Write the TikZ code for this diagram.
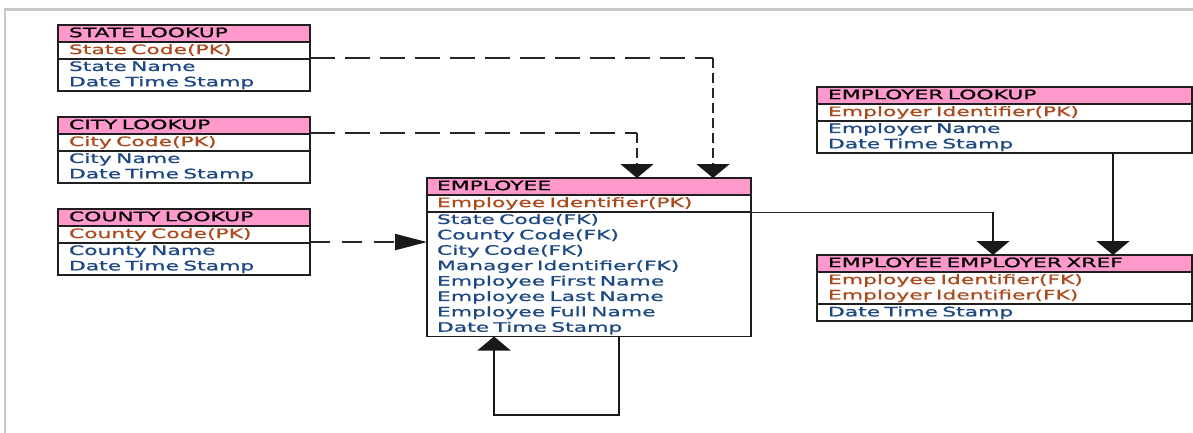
\documentclass[tikz,border=0pt]{standalone}
\usepackage{fontspec}
\setmainfont{DejaVu Sans}[FakeStretch=1.68, FakeBold=0.9]
\usepackage{tikz}
\usetikzlibrary{positioning,arrows.meta,shapes.multipart,calc}
\definecolor{hdrpink}{RGB}{255,153,204}
\definecolor{pkbrown}{RGB}{172,74,30}
\definecolor{attblue}{RGB}{28,72,132}
\definecolor{framegray}{RGB}{200,200,200}
\newcommand{\rs}{\rule[-4pt]{0pt}{15.4pt}}
\tikzset{
  entity/.style = {rectangle split, rectangle split parts=3, draw=black!88, line width=1.5pt,
                   rectangle split part fill={hdrpink,white}, anchor=north west, align=left,
                   inner xsep=11pt, inner ysep=0pt, outer sep=0pt, font=\fontsize{13}{15.4}\selectfont},
  dashh/.style  = {line width=2pt, draw=black!85, dash pattern=on 25pt off 10pt},
  dashv/.style  = {line width=2pt, draw=black!85, dash pattern=on 10pt off 5pt},
  relv/.style   = {-{Triangle[length=14pt,width=33pt]}, line width=2pt, draw=black!90},
  relh/.style   = {-{Triangle[length=32pt,width=16pt]}, line width=2pt, draw=black!90},
}

\begin{document}
\begin{tikzpicture}[x=1pt, y=-1pt]
  \useasboundingbox (0,0) rectangle (1193,433);
  \draw[framegray, line width=2.5pt] (5,433) -- (5,9.5) -- (1193,9.5);

  % lookup tables
  \node[entity, text width=230pt] (state) at (58,25)
    {\rs STATE LOOKUP
     \nodepart{two}\color{pkbrown}\rs State Code(PK)
     \nodepart{three}\color{attblue}\rs State Name\\\rs Date Time Stamp};
  \node[entity, text width=230pt] (city) at (58,117)
    {\rs CITY LOOKUP
     \nodepart{two}\color{pkbrown}\rs City Code(PK)
     \nodepart{three}\color{attblue}\rs City Name\\\rs Date Time Stamp};
  \node[entity, text width=230pt] (county) at (58,209)
    {\rs COUNTY LOOKUP
     \nodepart{two}\color{pkbrown}\rs County Code(PK)
     \nodepart{three}\color{attblue}\rs County Name\\\rs Date Time Stamp};

  % main table
  \node[entity, text width=304pt, inner xsep=10pt] (emp) at (427,178)
    {\rs EMPLOYEE
     \nodepart{two}\color{pkbrown}\rs Employee Identifier(PK)
     \nodepart{three}\color{attblue}\rs State Code(FK)\\\rs County Code(FK)\\\rs City Code(FK)\\
       \rs Manager Identifier(FK)\\\rs Employee First Name\\\rs Employee Last Name\\
       \rs Employee Full Name\\\rs Date Time Stamp};

  \node[entity, text width=353pt] (elook) at (817,87)
    {\rs EMPLOYER LOOKUP
     \nodepart{two}\color{pkbrown}\rs Employer Identifier(PK)
     \nodepart{three}\color{attblue}\rs Employer Name\\\rs Date Time Stamp};
  \node[entity, text width=353pt] (xref) at (817,255)
    {\rs EMPLOYEE EMPLOYER XREF
     \nodepart{two}\color{pkbrown}\rs Employee Identifier(FK)\\\rs Employer Identifier(FK)
     \nodepart{three}\color{attblue}\rs Date Time Stamp};

  % bends
  \coordinate (stbend) at (713,58);
  \coordinate (ctbend) at (637,133);
  \coordinate (exbend) at (993,212);
  \coordinate (eldrop) at (1113,0);
  \coordinate (loopr) at (619,415);
  \coordinate (loopl) at (494,415);

  % non-identifying relations
  \draw[dashh] (state.east |- stbend) -- (stbend);
  \draw[dashv] (stbend) -- ($(stbend |- emp.north)+(0,-13)$);
  \draw[relv] ($(stbend |- emp.north)+(0,-13)$) -- (stbend |- emp.north);
  \draw[dashh] (city.east |- ctbend) -- (ctbend);
  \draw[dashv] (ctbend) -- ($(ctbend |- emp.north)+(0,-13)$);
  \draw[relv] ($(ctbend |- emp.north)+(0,-13)$) -- (ctbend |- emp.north);
  \draw[dashh, dash pattern=on 20pt off 12pt] (county.east) -- ($(county.east -| emp.west)+(-31,0)$);
  \draw[relh] ($(county.east -| emp.west)+(-31,0)$) -- (county.east -| emp.west);

  % identifying relations
  \draw[line width=1pt, draw=black!85] (emp.east |- exbend) -- (exbend);
  \draw[relv] (exbend) -- (exbend |- xref.north);
  \draw[relv, line width=2.6pt] (eldrop |- elook.south) -- (eldrop |- xref.north);
  \draw[relv] (loopr |- emp.south) -- (loopr) -- (loopl) -- (loopl |- emp.south);
\end{tikzpicture}
\end{document}
